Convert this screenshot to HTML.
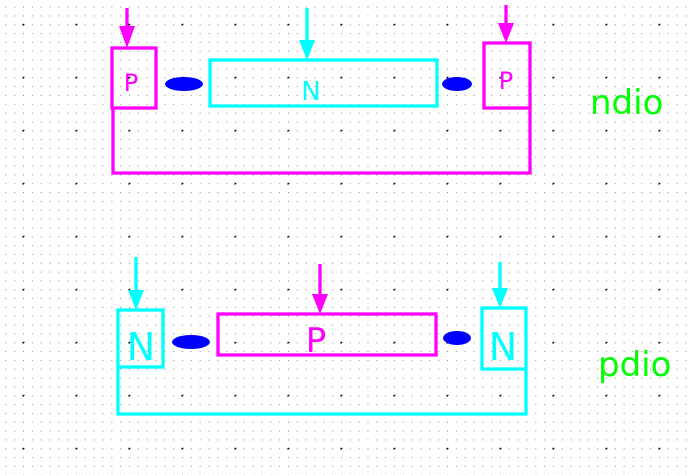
<!DOCTYPE html>
<html><head><style>body{margin:0;background:#fff}svg{display:block}</style></head><body>
<svg width="692" height="475" xmlns="http://www.w3.org/2000/svg" font-family="DejaVu Sans, sans-serif">
<defs>
<pattern id="d" x="5.33" y="6.6" width="8.833" height="8.833" patternUnits="userSpaceOnUse"><rect x="0" y="0" width="1" height="1" fill="#888"/></pattern>
<pattern id="c" x="22.5" y="23.8" width="53" height="53" patternUnits="userSpaceOnUse"><rect x="0" y="-1" width="1" height="3" fill="#000"/><rect x="-1" y="0" width="3" height="1" fill="#000"/></pattern>
</defs>
<rect width="692" height="475" fill="url(#d)"/>
<rect width="692" height="475" fill="url(#c)"/>
<g fill="none" stroke-width="3.3">
<rect x="112" y="48" width="44" height="60" stroke="#f0f"/>
<rect x="210" y="60" width="227" height="46" stroke="#0ff"/>
<rect x="484" y="43" width="46" height="65" stroke="#f0f"/>
<polyline points="113,108 113,173 530,173 530,108" stroke="#f0f"/>
<line x1="127" y1="8" x2="127" y2="30" stroke="#f0f"/>
<line x1="307" y1="8" x2="307" y2="42" stroke="#0ff"/>
<line x1="506" y1="5" x2="506" y2="25" stroke="#f0f"/>
<rect x="118" y="310" width="45" height="57" stroke="#0ff"/>
<rect x="218" y="314" width="218" height="41" stroke="#f0f"/>
<rect x="482" y="308" width="44" height="61" stroke="#0ff"/>
<polyline points="118,367 118,414 526,414 526,369" stroke="#0ff"/>
<line x1="136" y1="257" x2="136" y2="292" stroke="#0ff"/>
<line x1="320" y1="264" x2="320" y2="296" stroke="#f0f"/>
<line x1="500" y1="262" x2="500" y2="290" stroke="#0ff"/>
</g>
<polygon points="119,26 135,26 127,48" fill="#f0f"/>
<polygon points="299,40 315,40 307,60" fill="#0ff"/>
<polygon points="498,23 514,23 506,43" fill="#f0f"/>
<polygon points="128,290 144,290 136,310" fill="#0ff"/>
<polygon points="312,294 328,294 320,314" fill="#f0f"/>
<polygon points="492,288 508,288 500,308" fill="#0ff"/>
<ellipse cx="184" cy="84" rx="19" ry="7" fill="#00f"/>
<ellipse cx="457" cy="84" rx="15" ry="7" fill="#00f"/>
<ellipse cx="191" cy="342" rx="19" ry="7" fill="#00f"/>
<ellipse cx="457" cy="338" rx="14" ry="7" fill="#00f"/>
<text x="131" y="91" font-size="24" fill="#f0f" text-anchor="middle">P</text>
<text x="311" y="100" font-size="26" fill="#0ff" text-anchor="middle">N</text>
<text x="506" y="89" font-size="24" fill="#f0f" text-anchor="middle">P</text>
<text x="590" y="114" font-size="34" fill="#0f0">ndio</text>
<text x="141" y="360" font-size="38" fill="#0ff" text-anchor="middle">N</text>
<text x="316" y="352" font-size="34" fill="#f0f" text-anchor="middle">P</text>
<text x="503" y="360" font-size="38" fill="#0ff" text-anchor="middle">N</text>
<text x="598" y="376" font-size="34" fill="#0f0">pdio</text>
</svg>
</body></html>
